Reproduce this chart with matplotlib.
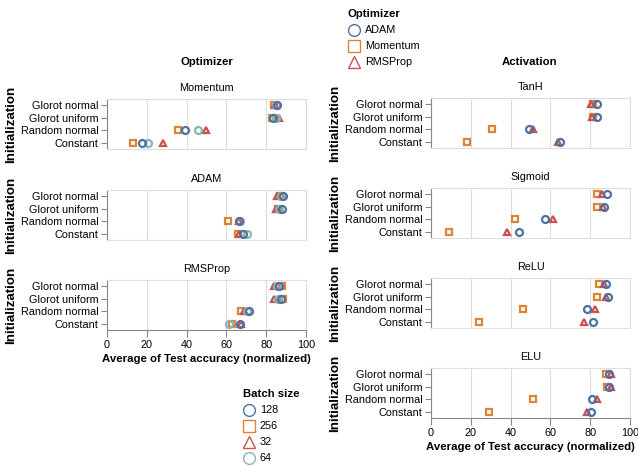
import matplotlib
matplotlib.use("Agg")
import matplotlib.pyplot as plt

plt.rcParams['font.family'] = ['Liberation Sans', 'DejaVu Sans']

W, H = 638, 466
inits = ["Glorot normal", "Glorot uniform", "Random normal", "Constant"]

# Left column: facet by optimizer, series by batch size
optimizers_left = ["Momentum", "ADAM", "RMSProp"]
batch_sizes = ["128", "256", "32", "64"]
left_values = {
    "Momentum": {
        "128": [85.5, 83.5, 39.0, 17.4],
        "256": [84.0, 83.0, 35.5, 13.0],
        "32":  [84.5, 86.5, 49.5, 28.3],
        "64":  [85.0, 85.0, 45.5, 20.8],
    },
    "ADAM": {
        "128": [88.5, 87.8, 66.5, 68.5],
        "256": [87.0, 86.0, 61.0, 65.6],
        "32":  [85.2, 84.8, 66.5, 66.5],
        "64":  [87.5, 86.5, 67.0, 70.5],
    },
    "RMSProp": {
        "128": [86.6, 87.6, 71.5, 67.0],
        "256": [88.0, 88.2, 67.5, 63.0],
        "32":  [83.7, 83.9, 69.0, 67.5],
        "64":  [85.5, 86.0, 70.5, 61.5],
    },
}

# Right column: facet by activation, series by optimizer
activations = ["TanH", "Sigmoid", "ReLU", "ELU"]
optimizers = ["ADAM", "Momentum", "RMSProp"]
right_values = {
    "TanH": {
        "ADAM":     [83.2, 83.2, 49.3, 64.9],
        "Momentum": [81.5, 81.5, 30.9, 18.0],
        "RMSProp":  [80.2, 80.8, 51.2, 63.7],
    },
    "Sigmoid": {
        "ADAM":     [88.6, 87.0, 57.2, 44.2],
        "Momentum": [83.6, 83.3, 42.3, 9.2],
        "RMSProp":  [85.8, 86.3, 61.5, 38.3],
    },
    "ReLU": {
        "ADAM":     [87.9, 88.9, 78.5, 81.2],
        "Momentum": [84.6, 83.3, 46.2, 24.1],
        "RMSProp":  [86.9, 87.9, 82.5, 77.0],
    },
    "ELU": {
        "ADAM":     [89.3, 89.6, 81.1, 80.3],
        "Momentum": [88.0, 88.3, 51.2, 29.3],
        "RMSProp":  [90.3, 90.6, 83.6, 78.3],
    },
}

BLUE, ORANGE, RED, TEAL = "#4e71a5", "#dc8536", "#cb5050", "#85b6b1"
batch_style = {"128": ("o", BLUE), "256": ("s", ORANGE), "32": ("^", RED), "64": ("o", TEAL)}
opt_style = {"ADAM": ("o", BLUE), "Momentum": ("s", ORANGE), "RMSProp": ("^", RED)}
batch_order = ["256", "32", "64", "128"]
opt_order = ["Momentum", "RMSProp", "ADAM"]

fig = plt.figure(figsize=(W / 100, H / 100), dpi=100)

def px_axes(x0, y0, x1, y1):
    return fig.add_axes([x0 / W, 1 - y1 / H, (x1 - x0) / W, (y1 - y0) / H])

GRID = "#dddddd"

def style_axes(ax, bottom):
    ax.set_xlim(0, 100)
    ax.set_ylim(len(inits) - 0.5, -0.5)
    ax.set_yticks(range(len(inits)))
    ax.set_yticklabels(inits, fontsize=7.8)
    ax.set_xticks([0, 20, 40, 60, 80, 100])
    ax.grid(axis="x", color=GRID, lw=0.8)
    ax.set_axisbelow(True)
    for s in ["top", "right"]:
        ax.spines[s].set_color(GRID)
        ax.spines[s].set_linewidth(0.8)
    ax.spines["left"].set_color("#888888")
    ax.spines["left"].set_linewidth(0.8)
    ax.tick_params(axis="y", length=4, width=0.8, color="#888888", pad=2)
    if bottom:
        ax.spines["bottom"].set_color("#888888")
        ax.spines["bottom"].set_linewidth(0.8)
        ax.tick_params(axis="x", length=5, width=0.8, color="#888888", labelsize=7.8, pad=2)
        ax.set_xlabel("Average of Test accuracy (normalized)", fontsize=8.2,
                      fontweight="bold", labelpad=3)
    else:
        ax.spines["bottom"].set_color(GRID)
        ax.spines["bottom"].set_linewidth(0.8)
        ax.tick_params(axis="x", length=0, labelbottom=False)
    ax.set_ylabel("Initialization", fontsize=9.6, fontweight="bold")
    ax.yaxis.set_label_coords(-0.45, 0.5)

MS = 5.0
MEW = 1.6

left_rows = [(99, 149), (190, 240), (280, 330)]
for name, (y0, y1) in zip(optimizers_left, left_rows):
    ax = px_axes(107, y0, 306, y1)
    for b in batch_order:
        m, c = batch_style[b]
        ax.plot(left_values[name][b], range(len(inits)), ls="none", marker=m,
                ms=MS, mfc="none", mec=c, mew=MEW)
    style_axes(ax, bottom=(name == optimizers_left[-1]))
    ax.set_title(name, fontsize=7.8, pad=6)

right_rows = [(98, 148), (188, 238), (278, 328), (368, 418)]
for name, (y0, y1) in zip(activations, right_rows):
    ax = px_axes(431, y0, 630, y1)
    for o in opt_order:
        m, c = opt_style[o]
        ax.plot(right_values[name][o], range(len(inits)), ls="none", marker=m,
                ms=MS, mfc="none", mec=c, mew=MEW)
    style_axes(ax, bottom=(name == activations[-1]))
    ax.set_title(name, fontsize=7.8, pad=6)

# Column headers
fig.text(207 / W, 1 - 62 / H, "Optimizer", ha="center", va="center",
         fontsize=8.2, fontweight="bold")
fig.text(530 / W, 1 - 62 / H, "Activation", ha="center", va="center",
         fontsize=8.2, fontweight="bold")

# Legends drawn on an overlay axes in pixel coordinates
lax = fig.add_axes([0, 0, 1, 1])
lax.set_xlim(0, W)
lax.set_ylim(H, 0)
lax.axis("off")

def draw_legend(title, labels, styles, x, ytitle):
    lax.text(x - 6, ytitle, title, fontsize=8.2, fontweight="bold", va="center", ha="left")
    for i, lab in enumerate(labels):
        yy = ytitle + 16 * (i + 1)
        m, c = styles[lab]
        lax.plot([x], [yy], ls="none", marker=m, ms=8.5, mfc="none", mec=c, mew=1.0)
        lax.text(x + 11, yy, lab, fontsize=7.8, va="center", ha="left")

draw_legend("Optimizer", optimizers, opt_style, 354, 14)
draw_legend("Batch size", batch_sizes, batch_style, 249, 394)

fig.savefig("out.png", dpi=100)
